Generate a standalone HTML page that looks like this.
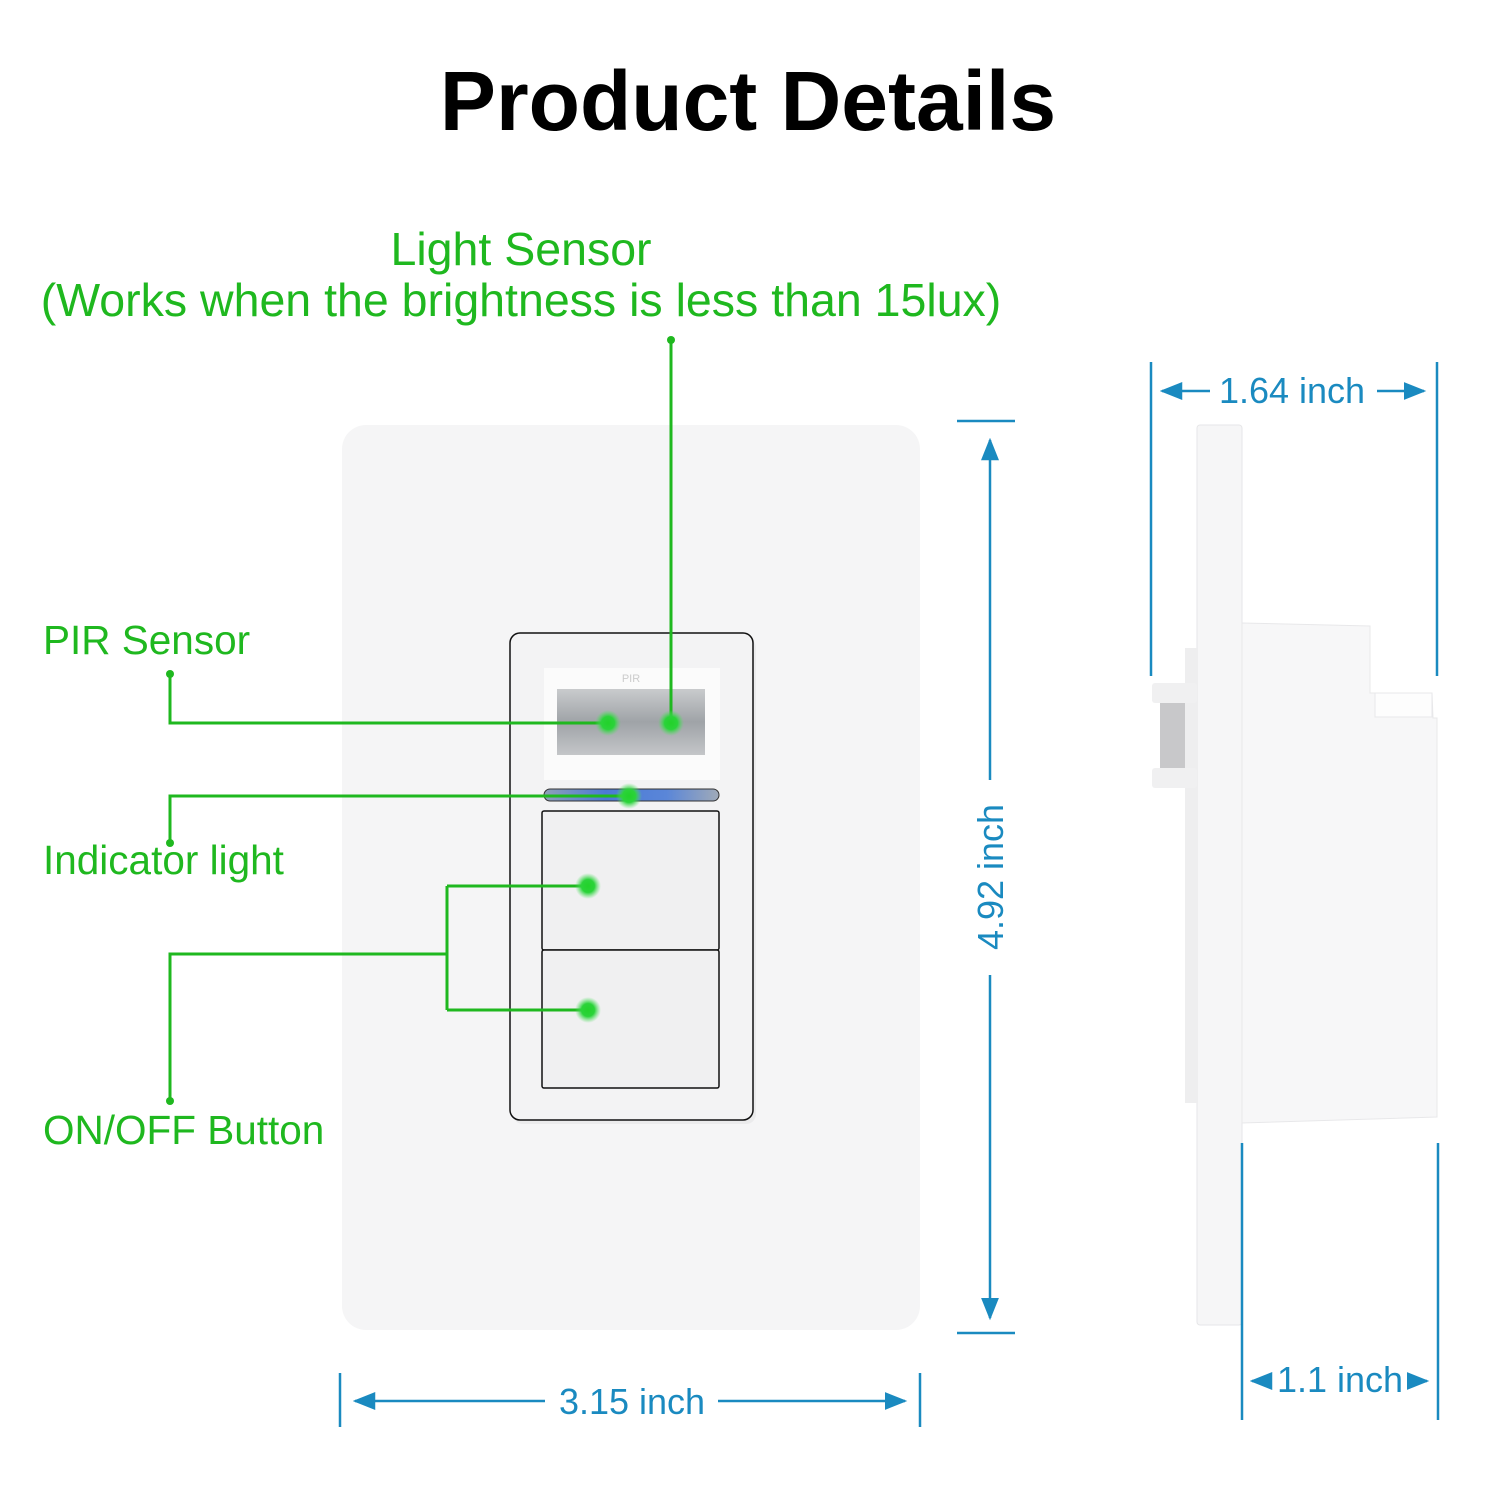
<!DOCTYPE html>
<html><head><meta charset="utf-8"><style>
html,body{margin:0;padding:0;background:#fff;}
svg{display:block;}
text{font-family:"Liberation Sans",Arial,sans-serif;}
</style></head><body>
<svg width="1500" height="1500" viewBox="0 0 1500 1500" xmlns="http://www.w3.org/2000/svg">
<defs>
<linearGradient id="pir" x1="0" x2="0" y1="0" y2="1"><stop offset="0" stop-color="#c9cbcd"/><stop offset="0.5" stop-color="#9fa3a7"/><stop offset="1" stop-color="#c4c6c8"/></linearGradient>
<linearGradient id="led" x1="0" x2="1"><stop offset="0" stop-color="#8fa0b8"/><stop offset="0.35" stop-color="#4b7ad6"/><stop offset="0.7" stop-color="#5a86d8"/><stop offset="1" stop-color="#a0aab8"/></linearGradient>
<radialGradient id="dot"><stop offset="0" stop-color="#22d22a"/><stop offset="0.5" stop-color="#2bd33a"/><stop offset="1" stop-color="#5be06a" stop-opacity="0"/></radialGradient>
<marker id="ar" viewBox="0 0 10 10" refX="9" refY="5" markerWidth="9" markerHeight="9" orient="auto-start-reverse"><path d="M0,1 L10,5 L0,9 Z" fill="#1a8ac0"/></marker>
</defs>
<text x="748" y="130" text-anchor="middle" font-size="84" font-weight="bold" fill="#000">Product Details</text>

<!-- front plate -->
<rect x="342" y="425" width="578" height="905" rx="24" fill="#f5f5f6"/>
<rect x="513" y="638" width="243" height="486" rx="10" fill="#e4e4e6" opacity="0.6"/>
<rect x="510" y="633" width="243" height="487" rx="10" fill="#f3f3f4" stroke="#111" stroke-width="1.5"/>
<rect x="544" y="668" width="176" height="112" fill="#fbfbfb"/>
<text x="631" y="682" text-anchor="middle" font-size="11" fill="#ccc">PIR</text>
<rect x="557" y="689" width="148" height="66" fill="url(#pir)"/>
<rect x="544" y="789" width="175" height="12" rx="6" fill="url(#led)" stroke="#333" stroke-width="1"/>
<rect x="542" y="811" width="177" height="139" rx="2" fill="#f0f0f1" stroke="#111" stroke-width="1.5"/>
<rect x="542" y="950" width="177" height="138" rx="2" fill="#f0f0f1" stroke="#111" stroke-width="1.5"/>

<!-- side view -->
<rect x="1197" y="425" width="45" height="900" rx="3" fill="#f6f6f7" stroke="#e6e6e8"/>
<rect x="1185" y="648" width="13" height="455" fill="#eeeeef"/>
<rect x="1152" y="683" width="45" height="20" rx="3" fill="#f0f0f1"/>
<rect x="1160" y="703" width="25" height="65" fill="#c8c8ca"/>
<rect x="1152" y="768" width="45" height="20" rx="3" fill="#f0f0f1"/>
<path d="M1242,623 L1370,626 L1370,693 L1432,693 L1433,718 L1437,718 L1437,1117 L1242,1123 Z" fill="#f7f7f8" stroke="#e8e8ea"/>
<rect x="1375" y="693" width="57" height="24" fill="#fdfdfd" stroke="#e8e8ea"/>

<!-- green leaders -->
<g stroke="#1fb81f" stroke-width="3" fill="none">
<path d="M671,340 L671,723"/>
<path d="M170,674 L170,723 L608,723"/>
<path d="M170,843 L170,796 L629,796"/>
<path d="M170,1101 L170,954 L447,954"/>
<path d="M447,886 L447,1010 M447,886 L588,886 M447,1010 L588,1010"/>
</g>
<g fill="#1fb81f"><circle cx="671" cy="340" r="4"/><circle cx="170" cy="674" r="4"/><circle cx="170" cy="843" r="4"/><circle cx="170" cy="1101" r="4"/></g>
<g fill="url(#dot)"><circle cx="608" cy="723" r="13"/><circle cx="671" cy="723" r="13"/><circle cx="629" cy="796" r="13"/><circle cx="588" cy="886" r="13"/><circle cx="588" cy="1010" r="13"/></g>

<g fill="#1fb81f" font-size="40.5">
<text x="521" y="265" text-anchor="middle" font-size="46.5">Light Sensor</text>
<text x="521" y="316" text-anchor="middle" font-size="46.5">(Works when the brightness is less than 15lux)</text>
<text x="43" y="654">PIR Sensor</text>
<text x="43" y="874">Indicator light</text>
<text x="43" y="1144">ON/OFF Button</text>
</g>

<!-- dimensions -->
<g stroke="#1a8ac0" stroke-width="2.5" fill="none">
<path d="M957,421 L1015,421 M957,1333 L1015,1333"/>
<path d="M990,780 L990,440" marker-end="url(#ar)"/>
<path d="M990,975 L990,1318" marker-end="url(#ar)"/>
<path d="M340,1373 L340,1427 M920,1373 L920,1427"/>
<path d="M545,1401 L355,1401" marker-end="url(#ar)"/>
<path d="M718,1401 L905,1401" marker-end="url(#ar)"/>
<path d="M1151,362 L1151,676 M1437,362 L1437,676"/>
<path d="M1210,391 L1162,391" marker-end="url(#ar)"/>
<path d="M1377,391 L1424,391" marker-end="url(#ar)"/>
<path d="M1242,1143 L1242,1420 M1438,1143 L1438,1420"/>
<path d="M1272,1381 L1252,1381" marker-end="url(#ar)"/>
<path d="M1408,1381 L1427,1381" marker-end="url(#ar)"/>
</g>
<g fill="#1a8ac0" font-size="36">
<text x="632" y="1414" text-anchor="middle">3.15 inch</text>
<text x="1292" y="403" text-anchor="middle">1.64 inch</text>
<text x="1340" y="1392" text-anchor="middle">1.1 inch</text>
<text transform="translate(1003,877) rotate(-90)" text-anchor="middle">4.92 inch</text>
</g>
</svg>
</body></html>
